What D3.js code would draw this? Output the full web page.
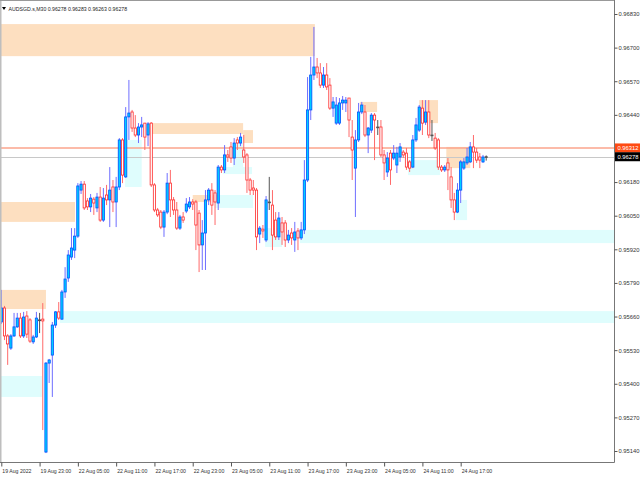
<!DOCTYPE html>
<html><head><meta charset="utf-8">
<script src="https://cdn.jsdelivr.net/npm/d3@7"></script>
<style>body{margin:0;background:#fff;overflow:hidden}</style>
</head><body>
<svg id="c" width="640" height="480"></svg>
<script>
// ---- data (AUDSGD.s, M30) ----
const openP = [.95639,.95693,.95585,.95538,.95585,.95620,.95654,.95585,.95662,.95647,
.95562,.95581,.95647,.95650,.95136,.95480,.95511,.95627,.95678,.95650,
.95755,.95809,.95890,.95917,.95971,.96149,.96172,.96107,.96084,.96114,
.96080,.96122,.96033,.96130,.96111,.96161,.96103,.96161,.96343,.96200,
.96432,.96451,.96389,.96362,.96393,.96408,.96362,.96408,.96169,.96072,
.96064,.96006,.96064,.96176,.96111,.96072,.96002,.96045,.96068,.96084,
.96103,.96103,.96060,.95937,.95983,.96111,.96149,.96138,.96099,.96238,
.96227,.96285,.96316,.96273,.96343,.96331,.96304,.96285,.96188,.96157,
.96149,.95979,.95998,.95956,.96103,.96091,.96033,.95968,.96022,.96022,
.95956,.95983,.95956,.95991,.95964,.95995,.96188,.96459,.96594,.96625,
.96602,.96555,.96594,.96555,.96466,.96408,.96408,.96486,.96486,.96505,
.96354,.96234,.96343,.96451,.96451,.96362,.96381,.96439,.96393,.96393,
.96285,.96219,.96292,.96273,.96246,.96277,.96296,.96292,.96258,.96238,
.96343,.96381,.96466,.96412,.96451,.96362,.96350,.96343,.96238,.96227,
.96254,.96200,.96111,.96064,.96149,.96234,.96254,.96258,.96316,.96296,
.96277,.96258,.96278];
const highP = [.95763,.95701,.95592,.95592,.95674,.95674,.95674,.95678,.95681,.95654,
.95589,.95678,.95674,.95712,.95484,.95496,.95639,.95681,.95716,.95763,
.95851,.95917,.96002,.96002,.96176,.96184,.96184,.96118,.96134,.96122,
.96138,.96161,.96157,.96169,.96238,.96188,.96200,.96350,.96350,.96470,
.96575,.96459,.96439,.96408,.96432,.96408,.96412,.96412,.96176,.96080,
.96072,.96072,.96215,.96227,.96122,.96103,.96053,.96064,.96118,.96122,
.96114,.96111,.96072,.96033,.96149,.96157,.96176,.96149,.96246,.96246,
.96323,.96304,.96335,.96350,.96354,.96370,.96362,.96292,.96196,.96188,
.96157,.96010,.96014,.96126,.96200,.96149,.96064,.96064,.96045,.96033,
.95995,.96002,.96026,.96002,.96026,.96265,.96586,.96664,.96780,.96660,
.96640,.96625,.96640,.96582,.96509,.96509,.96505,.96513,.96509,.96505,
.96420,.96381,.96486,.96490,.96478,.96393,.96447,.96447,.96420,.96420,
.96304,.96296,.96304,.96323,.96316,.96331,.96304,.96312,.96265,.96362,
.96428,.96478,.96497,.96497,.96497,.96420,.96370,.96350,.96246,.96246,
.96273,.96238,.96138,.96176,.96265,.96273,.96312,.96335,.96362,.96312,
.96292,.96285,.96283];
const lowP = [.95631,.95569,.95473,.95531,.95581,.95616,.95577,.95577,.95577,.95558,
.95554,.95577,.95596,.95221,.95132,.95403,.95349,.95616,.95647,.95647,
.95732,.95794,.95879,.95886,.95964,.96134,.96072,.96072,.96064,.96053,
.96064,.96026,.96026,.96091,.96006,.96064,.96006,.96149,.96176,.96196,
.96343,.96374,.96354,.96331,.96354,.96304,.96319,.96161,.96064,.96045,
.95998,.95968,.96056,.96045,.96053,.95995,.95995,.96022,.96060,.96076,
.96072,.95917,.95832,.95840,.95840,.96091,.96053,.96014,.96072,.96215,
.96215,.96258,.96254,.96246,.96304,.96319,.96254,.96138,.96130,.96130,
.95917,.95944,.95964,.95948,.96072,.95917,.95956,.95956,.95937,.95929,
.95944,.95937,.95910,.95917,.95956,.95979,.96180,.96420,.96575,.96582,
.96544,.96544,.96536,.96459,.96432,.96401,.96401,.96459,.96451,.96354,
.96188,.96045,.96335,.96443,.96354,.96292,.96370,.96265,.96362,.96277,
.96188,.96200,.96169,.96265,.96215,.96258,.96273,.96227,.96219,.96234,
.96335,.96374,.96362,.96401,.96350,.96339,.96304,.96227,.96219,.96219,
.96149,.96080,.96033,.96060,.96099,.96227,.96246,.96254,.96234,.96254,
.96234,.96254,.96263];
const closeP = [.95693,.95585,.95554,.95585,.95620,.95654,.95585,.95658,.95592,.95565,
.95581,.95654,.95647,.95643,.95480,.95492,.95627,.95678,.95654,.95755,
.95805,.95898,.95925,.95971,.96165,.96172,.96080,.96084,.96118,.96099,
.96122,.96033,.96118,.96111,.96149,.96103,.96161,.96343,.96207,.96432,
.96447,.96389,.96362,.96393,.96401,.96354,.96405,.96169,.96072,.96053,
.96006,.96064,.96176,.96111,.96072,.96002,.96045,.96033,.96095,.96103,
.96095,.96014,.95937,.95983,.96111,.96149,.96091,.96103,.96238,.96227,
.96285,.96277,.96273,.96331,.96331,.96354,.96277,.96188,.96149,.96149,
.95968,.96002,.95991,.96111,.96103,.95975,.95968,.96041,.95987,.95956,
.95975,.95964,.95987,.95964,.95995,.96188,.96459,.96594,.96625,.96602,
.96555,.96594,.96548,.96466,.96490,.96478,.96486,.96497,.96497,.96420,
.96304,.96343,.96451,.96478,.96362,.96389,.96439,.96420,.96393,.96285,
.96254,.96273,.96227,.96292,.96292,.96316,.96285,.96238,.96234,.96343,
.96401,.96470,.96408,.96451,.96362,.96362,.96312,.96238,.96227,.96238,
.96227,.96111,.96064,.96149,.96258,.96258,.96277,.96316,.96296,.96265,
.96265,.96277,.96278];

const timeTickIndex = [0,12,24,36,48,60,72,84,96,108,120,132,144];
const timeTickLabels = ["19 Aug 2022","19 Aug 23:00","22 Aug 05:00","22 Aug 11:00","22 Aug 17:00",
  "22 Aug 23:00","23 Aug 05:00","23 Aug 11:00","23 Aug 17:00","23 Aug 23:00",
  "24 Aug 05:00","24 Aug 11:00","24 Aug 17:00"];
const priceTicks = [0.96830,0.96700,0.96570,0.96440,0.96180,0.96050,0.95920,0.95790,0.95660,0.95530,0.95400,0.95270,0.95140];

// zones: [startBar, endBar, top price, bottom price]
const supplyZones = [
  [-1, 98.3, 0.96791, 0.96667],
  [-1, 23.1, 0.96103, 0.96026],
  [-1, 14.0, 0.95763, 0.95689],
  [46, 75.8, 0.96408, 0.96366],
  [75.8, 78.9, 0.96381, 0.96331],
  [60, 67, 0.96130, 0.96103],
  [112.4, 117.8, 0.96490, 0.96451],
  [131, 136.9, 0.96497, 0.96408],
  [139.5, 147, 0.96316, 0.96234]
];
const demandZones = [
  [-1, 12.8, 0.95430, 0.95349],
  [18.4, 200, 0.95681, 0.95635],
  [93.6, 200, 0.95995, 0.95944],
  [38.8, 44, 0.96343, 0.96161],
  [67, 78.9, 0.96130, 0.96080],
  [69.5, 78.6, 0.96238, 0.96211],
  [72.6, 75.8, 0.96331, 0.96238],
  [82.7, 88, 0.96002, 0.95929],
  [127.5, 137.5, 0.96265, 0.96207],
  [142.5, 146, 0.96111, 0.96033]
];
const bidLine = 0.96312;
const lastPrice = 0.96278;
const symbol = "AUDSGD.s,M30";

// ---- drawing ----
const W = 640, H = 480, plotR = 614, plotB = 462;
const svg = d3.select("#c");
const n = openP.length;
const x = d3.scaleLinear().domain([0, 152]).range([1.3, 486.2]);
const y = d3.scaleLinear().domain([0.95140, 0.96830]).range([451, 14]);
const font = "'Liberation Sans', Arial, sans-serif";

const plot = svg.append("g");
svg.append("defs").append("clipPath").attr("id","clip")
  .append("rect").attr("x",0).attr("y",0).attr("width",plotR).attr("height",plotB);
plot.attr("clip-path","url(#clip)");

plot.selectAll("rect.sz").data(supplyZones).join("rect").attr("class","sz")
  .attr("x", d => Math.max(0, x(d[0])))
  .attr("width", d => Math.min(plotR, x(d[1])) - Math.max(0, x(d[0])))
  .attr("y", d => y(d[2])).attr("height", d => y(d[3]) - y(d[2]))
  .attr("fill", "#FDDFC0");
plot.selectAll("rect.dz").data(demandZones).join("rect").attr("class","dz")
  .attr("x", d => Math.max(0, x(d[0])))
  .attr("width", d => Math.min(plotR, x(d[1])) - Math.max(0, x(d[0])))
  .attr("y", d => y(d[2])).attr("height", d => y(d[3]) - y(d[2]))
  .attr("fill", "#DFFDFD");

plot.append("line").attr("x1",0).attr("x2",plotR).attr("y1",y(bidLine)).attr("y2",y(bidLine))
  .attr("stroke","#FBA58C").attr("stroke-width",1.6);
plot.append("line").attr("x1",0).attr("x2",plotR).attr("y1",Math.round(y(lastPrice))+0.5).attr("y2",Math.round(y(lastPrice))+0.5)
  .attr("stroke","#C8C8C8").attr("stroke-width",1);

const idx = d3.range(n);
const kind = i => closeP[i] > openP[i] ? "up" : (closeP[i] < openP[i] ? "down" : "flat");
const wickCol = {up:"#6E6EFF", down:"#FF6A6A", flat:"#555"};
const bodyFill = {up:"#00D0FF", down:"#FFFFFF", flat:"#555"};
const bodyStroke = {up:"#0050FF", down:"#FF2A2A", flat:"#555"};

plot.selectAll("line.wick").data(idx).join("line").attr("class","wick")
  .attr("x1", i => x(i)).attr("x2", i => x(i))
  .attr("y1", i => y(highP[i])).attr("y2", i => y(lowP[i]))
  .attr("stroke", i => wickCol[kind(i)]).attr("stroke-width", 1);

plot.selectAll("rect.body").data(idx).join("rect").attr("class","body")
  .attr("x", i => x(i) - 1.1).attr("width", 2.2)
  .attr("y", i => y(Math.max(openP[i], closeP[i])))
  .attr("height", i => Math.max(0.8, Math.abs(y(openP[i]) - y(closeP[i]))))
  .attr("fill", i => bodyFill[kind(i)])
  .attr("stroke", i => bodyStroke[kind(i)]).attr("stroke-width", 0.8);

// frame
svg.append("line").attr("x1",0.5).attr("x2",0.5).attr("y1",0).attr("y2",plotB).attr("stroke","#BEBEBE").attr("stroke-width",2);
svg.append("line").attr("x1",0).attr("x2",plotR+0.5).attr("y1",plotB+0.5).attr("y2",plotB+0.5).attr("stroke","#777");
svg.append("line").attr("x1",plotR+0.5).attr("x2",plotR+0.5).attr("y1",0).attr("y2",plotB+0.5).attr("stroke","#777");
svg.append("line").attr("x1",0).attr("x2",plotR).attr("y1",0.5).attr("y2",0.5).attr("stroke","#999");

// right axis
const ra = svg.append("g").attr("transform",`translate(${plotR+0.5},0)`)
  .call(d3.axisRight(y).tickValues(priceTicks).tickFormat(d3.format(".5f")).tickSize(3).tickPadding(1));
ra.select(".domain").remove();
ra.selectAll("line").attr("stroke","#555");
ra.selectAll("text").attr("font-family",font).attr("font-size",5.8).attr("fill","#333");

// price labels
function priceTag(v, bg) {
  const g = svg.append("g").attr("transform",`translate(${plotR+1},${y(v)})`);
  g.append("rect").attr("x",0).attr("y",-4.5).attr("width",25).attr("height",9).attr("fill",bg);
  g.append("text").attr("x",2.5).attr("y",2.2).text(d3.format(".5f")(v))
    .attr("font-family",font).attr("font-size",5.8).attr("fill","#fff");
}
priceTag(bidLine, "#FF4A12");
priceTag(lastPrice, "#000");

// bottom axis
const ba = svg.append("g").attr("transform",`translate(0,${plotB+0.5})`)
  .call(d3.axisBottom(x).tickValues(timeTickIndex).tickFormat((d,k)=>timeTickLabels[k]).tickSize(4).tickPadding(3));
ba.select(".domain").remove();
ba.selectAll("line").attr("stroke","#555");
ba.selectAll("text").attr("text-anchor","start").attr("dx",0.5)
  .attr("font-family",font).attr("font-size",5.2).attr("fill","#333");

// title
svg.append("path").attr("d","M2,7 L6,7 L4,10 Z").attr("fill","#000");
svg.append("text").attr("x",8.5).attr("y",10.5)
  .text(`${symbol}  ${d3.format(".5f")(openP[n-1])} ${d3.format(".5f")(highP[n-1])} ${d3.format(".5f")(lowP[n-1])} ${d3.format(".5f")(closeP[n-1])}`)
  .attr("font-family",font).attr("font-size",5.2).attr("fill","#222");
</script>
</body></html>
